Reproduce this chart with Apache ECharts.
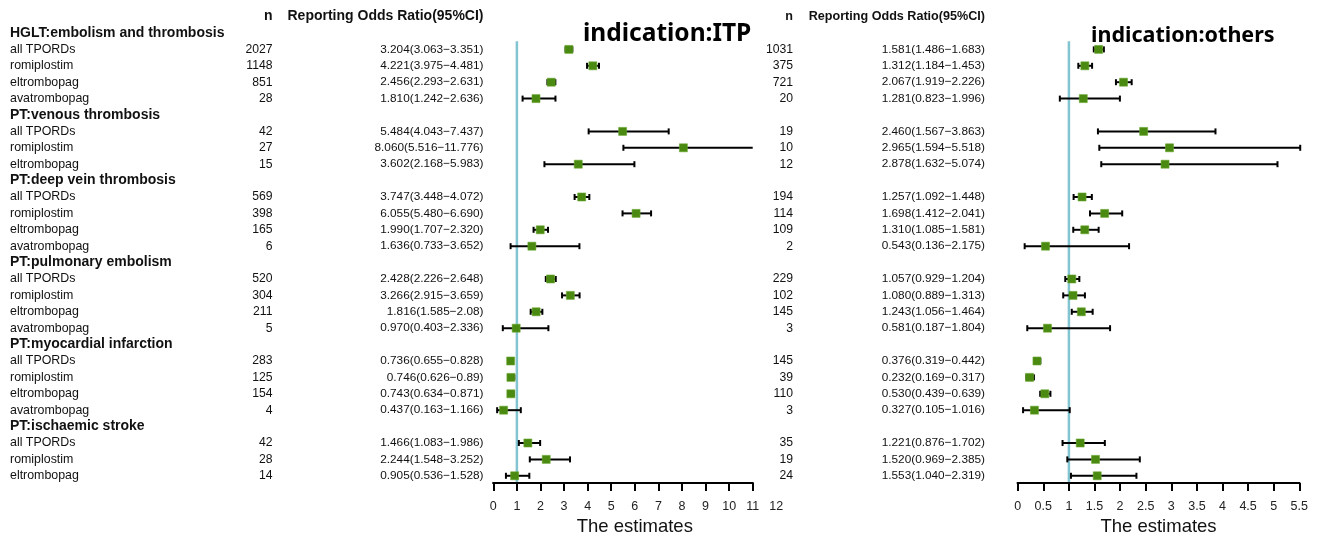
<!DOCTYPE html>
<html>
<head>
<meta charset="utf-8">
<script src="https://cdn.jsdelivr.net/npm/echarts@6/dist/echarts.min.js"></script>
<style>html,body{margin:0;padding:0;background:#fff}#c{width:1337px;height:536px}</style>
</head>
<body>
<div id="c"></div>
<script>
// ---------------- data ----------------
const LABELS = ['HGLT:embolism and thrombosis','all TPORDs','romiplostim','eltrombopag','avatrombopag',
  'PT:venous thrombosis','all TPORDs','romiplostim','eltrombopag',
  'PT:deep vein thrombosis','all TPORDs','romiplostim','eltrombopag','avatrombopag',
  'PT:pulmonary embolism','all TPORDs','romiplostim','eltrombopag','avatrombopag',
  'PT:myocardial infarction','all TPORDs','romiplostim','eltrombopag','avatrombopag',
  'PT:ischaemic stroke','all TPORDs','romiplostim','eltrombopag'];

const ITP_N   = ['','2027','1148','851','28','','42','27','15','','569','398','165','6','','520','304','211','5','','283','125','154','4','','42','28','14'];
const ITP_EST = [null,'3.204','4.221','2.456','1.810',null,'5.484','8.060','3.602',null,'3.747','6.055','1.990','1.636',null,'2.428','3.266','1.816','0.970',null,'0.736','0.746','0.743','0.437',null,'1.466','2.244','0.905'];
const ITP_LO  = [null,'3.063','3.975','2.293','1.242',null,'4.043','5.516','2.168',null,'3.448','5.480','1.707','0.733',null,'2.226','2.915','1.585','0.403',null,'0.655','0.626','0.634','0.163',null,'1.083','1.548','0.536'];
const ITP_HI  = [null,'3.351','4.481','2.631','2.636',null,'7.437','11.776','5.983',null,'4.072','6.690','2.320','3.652',null,'2.648','3.659','2.08','2.336',null,'0.828','0.89','0.871','1.166',null,'1.986','3.252','1.528'];

const OTH_N   = ['','1031','375','721','20','','19','10','12','','194','114','109','2','','229','102','145','3','','145','39','110','3','','35','19','24'];
const OTH_EST = [null,'1.581','1.312','2.067','1.281',null,'2.460','2.965','2.878',null,'1.257','1.698','1.310','0.543',null,'1.057','1.080','1.243','0.581',null,'0.376','0.232','0.530','0.327',null,'1.221','1.520','1.553'];
const OTH_LO  = [null,'1.486','1.184','1.919','0.823',null,'1.567','1.594','1.632',null,'1.092','1.412','1.085','0.136',null,'0.929','0.889','1.056','0.187',null,'0.319','0.169','0.439','0.105',null,'0.876','0.969','1.040'];
const OTH_HI  = [null,'1.683','1.453','2.226','1.996',null,'3.863','5.518','5.074',null,'1.448','2.041','1.581','2.175',null,'1.204','1.313','1.464','1.804',null,'0.442','0.317','0.639','1.016',null,'1.702','2.385','2.319'];

const ITP_TICKS  = [0,1,2,3,4,5,6,7,8,9,10,11];
const ITP_LABELS = [0,1,2,3,4,5,6,7,8,9,10,11,12];
const OTH_TICKS  = [0,0.5,1,1.5,2,2.5,3,3.5,4,4.5,5,5.5];
const HEAD_N = 'n';
const HEAD_ROR = 'Reporting Odds Ratio(95%CI)';
const TITLE_ITP = 'indication:ITP';
const TITLE_OTH = 'indication:others';
const AXIS_NAME = 'The estimates';
const REF_VALUE = 1;

// ---------------- layout ----------------
const FONT = '"Liberation Sans", Arial, sans-serif';
const GREEN = '#4a8a10';
const REF_BLUE = '#82c4d0';
const Y_MIN = -1, Y_MAX = 27.44;
const GTOP = 16.6, GBOT = 53;
const ITP_CLIP = 11;

const chart = echarts.init(document.getElementById('c'), null, {renderer: 'canvas'});

// text columns (x positions in pixel-like units of a full-width grid)
const COL = {label: 10, itpN: 272.5, itpRor: 483.5, othN: 793, othRor: 985};
const texts = [];
texts.push({x: COL.itpN, row: -1, t: HEAD_N, font: 'bold 14px ', align: 'right'});
texts.push({x: COL.itpRor, row: -1, t: HEAD_ROR, font: 'bold 14px ', align: 'right'});
texts.push({x: COL.othN, row: -1, t: HEAD_N, font: 'bold 12.6px ', align: 'right'});
texts.push({x: COL.othRor, row: -1, t: HEAD_ROR, font: 'bold 12.6px ', align: 'right'});
LABELS.forEach((lab, i) => {
  const head = ITP_EST[i] === null;
  texts.push({x: COL.label, row: i, t: lab, font: head ? 'bold 14px ' : '12.4px ', align: 'left'});
  if (!head) {
    texts.push({x: COL.itpN, row: i, t: ITP_N[i], font: '12.2px ', align: 'right'});
    texts.push({x: COL.itpRor, row: i, t: ITP_EST[i] + '(' + ITP_LO[i] + '\u2212' + ITP_HI[i] + ')', font: '11.8px ', align: 'right'});
    texts.push({x: COL.othN, row: i, t: OTH_N[i], font: '12.2px ', align: 'right'});
    texts.push({x: COL.othRor, row: i, t: OTH_EST[i] + '(' + OTH_LO[i] + '\u2212' + OTH_HI[i] + ')', font: '11.8px ', align: 'right'});
  }
});

function forestData(est, lo, hi) {
  const d = [];
  est.forEach((e, i) => { if (e !== null) d.push([i, Number(e), Number(lo[i]), Number(hi[i])]); });
  return d;
}

function forestRender(xmax) {
  return function (params, api) {
    const row = api.value(0), est = api.value(1), lo = api.value(2), hi = api.value(3);
    const hiC = Math.min(hi, xmax);
    const pL = api.coord([lo, row]), pH = api.coord([hiC, row]), pE = api.coord([est, row]);
    const ls = {stroke: '#000', lineWidth: 2};
    const ch = [
      {type: 'line', shape: {x1: pL[0], y1: pL[1], x2: pH[0], y2: pH[1]}, style: ls},
      {type: 'line', shape: {x1: pL[0], y1: pL[1] - 3, x2: pL[0], y2: pL[1] + 3}, style: ls}
    ];
    if (hi <= xmax) ch.push({type: 'line', shape: {x1: pH[0], y1: pH[1] - 3, x2: pH[0], y2: pH[1] + 3}, style: ls});
    ch.push({type: 'rect', shape: {x: pE[0] - 4, y: pE[1] - 4, width: 8, height: 8}, style: {fill: GREEN, stroke: '#6aa832', lineWidth: 0.6}});
    return {type: 'group', children: ch};
  };
}

function vline(params, api) {
  const a = api.coord([api.value(0), api.value(1)]), b = api.coord([api.value(0), api.value(2)]);
  return {type: 'line', shape: {x1: a[0], y1: a[1], x2: b[0], y2: b[1]}, style: {stroke: REF_BLUE, lineWidth: 2.5}};
}
function hline(params, api) {
  const a = api.coord([api.value(0), api.value(2)]), b = api.coord([api.value(1), api.value(2)]);
  return {type: 'line', shape: {x1: a[0] - 1, y1: a[1], x2: b[0] + 1, y2: b[1]}, style: {stroke: '#000', lineWidth: 2}};
}

function xAx(gi, max, ticks, labels) {
  return {
    type: 'value', gridIndex: gi, min: 0, max: max, position: 'bottom',
    splitLine: {show: false},
    axisLine: {show: false, onZero: false},
    axisTick: {show: true, length: 8, inside: false, customValues: ticks, lineStyle: {color: '#000', width: 2}},
    axisLabel: {show: true, customValues: labels, margin: 17, color: '#222', fontSize: 12.5, fontFamily: FONT},
    name: AXIS_NAME, nameLocation: 'middle', nameGap: 32,
    nameTextStyle: {fontSize: 18.5, color: '#111', fontFamily: FONT}
  };
}
function yAx(gi) {
  return {type: 'value', gridIndex: gi, min: Y_MIN, max: Y_MAX, inverse: true, show: false};
}

const option = {
  backgroundColor: '#fff',
  animation: false,
  title: [
    {text: TITLE_ITP, left: 583, top: 22, padding: 0, textStyle: {fontFamily: '"Noto Sans", sans-serif', fontWeight: 'bold', fontSize: 24.5, color: '#000'}},
    {text: TITLE_OTH, left: 1091, top: 25, padding: 0, textStyle: {fontFamily: '"Noto Sans", sans-serif', fontWeight: 'bold', fontSize: 21.5, color: '#000'}}
  ],
  grid: [
    {left: 493.3, right: 1337 - 776.3, top: GTOP, bottom: GBOT, outerBoundsMode: 'none', containLabel: false},
    {left: 1017.7, right: 1337 - 1299.3, top: GTOP, bottom: GBOT, outerBoundsMode: 'none', containLabel: false},
    {left: 0, right: 0, top: GTOP, bottom: GBOT, outerBoundsMode: 'none', containLabel: false}
  ],
  xAxis: [
    xAx(0, 12, ITP_TICKS, ITP_LABELS),
    xAx(1, 5.5, OTH_TICKS, OTH_TICKS),
    {type: 'value', gridIndex: 2, min: 0, max: 1337, show: false}
  ],
  yAxis: [yAx(0), yAx(1), yAx(2)],
  series: [
    {type: 'custom', xAxisIndex: 0, yAxisIndex: 0, renderItem: vline, data: [[REF_VALUE, 0.5, Y_MAX]], z: 1, silent: true},
    {type: 'custom', xAxisIndex: 1, yAxisIndex: 1, renderItem: vline, data: [[REF_VALUE, 0.5, Y_MAX]], z: 1, silent: true},
    {type: 'custom', xAxisIndex: 0, yAxisIndex: 0, renderItem: hline, data: [[0, ITP_TICKS[ITP_TICKS.length - 1], Y_MAX]], z: 2, silent: true},
    {type: 'custom', xAxisIndex: 1, yAxisIndex: 1, renderItem: hline, data: [[0, OTH_TICKS[OTH_TICKS.length - 1], Y_MAX]], z: 2, silent: true},
    {type: 'custom', xAxisIndex: 0, yAxisIndex: 0, renderItem: forestRender(ITP_CLIP), data: forestData(ITP_EST, ITP_LO, ITP_HI), z: 3, silent: true},
    {type: 'custom', xAxisIndex: 1, yAxisIndex: 1, renderItem: forestRender(Infinity), data: forestData(OTH_EST, OTH_LO, OTH_HI), z: 3, silent: true},
    {type: 'custom', xAxisIndex: 2, yAxisIndex: 2, z: 4, silent: true,
      data: texts.map(o => [o.x, o.row]),
      renderItem: function (params, api) {
        const o = texts[params.dataIndex];
        const p = api.coord([o.x, o.row]);
        return {type: 'text', x: p[0], y: p[1], style: {
          text: o.t, fill: '#111', align: o.align, verticalAlign: 'middle',
          font: o.font + FONT
        }};
      }}
  ]
};
chart.setOption(option);
</script>
</body>
</html>
